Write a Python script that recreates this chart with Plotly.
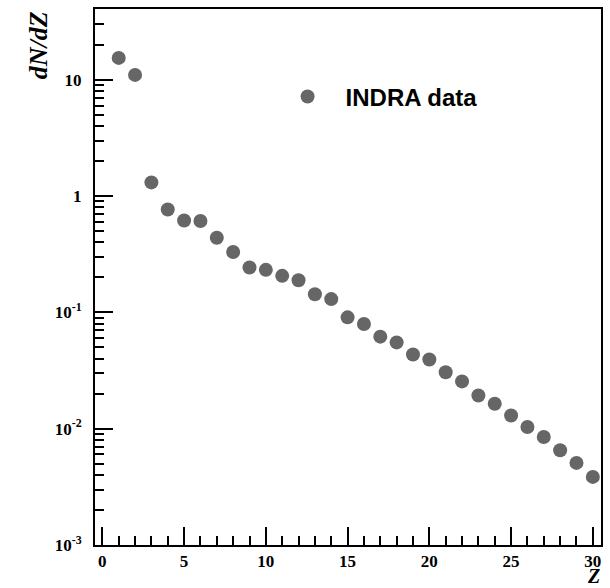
import plotly.graph_objects as go

Z = list(range(1, 31))
dNdZ = [15.4, 11.0, 1.31, 0.767, 0.617, 0.61, 0.438, 0.330, 0.243, 0.232,
        0.206, 0.189, 0.143, 0.130, 0.0906, 0.0794, 0.0618, 0.0552, 0.0434, 0.0393,
        0.0306, 0.0255, 0.0193, 0.0164, 0.0130, 0.01035, 0.00849, 0.00653, 0.00508, 0.00385]

x_tickvals = [0, 5, 10, 15, 20, 25, 30]
y_tickvals = [1e-3, 1e-2, 1e-1, 1, 10]
y_ticktext = ["<b>10</b><sup><b>-3</b></sup>", "<b>10</b><sup><b>-2</b></sup>",
              "<b>10</b><sup><b>-1</b></sup>", "<b>1</b>", "<b>10</b>"]

fig = go.Figure()
fig.add_trace(go.Scatter(
    x=Z, y=dNdZ, mode="markers", name="INDRA data",
    marker=dict(size=14, color="#666666", line=dict(width=0)),
))

serif = "Liberation Serif, Times New Roman, serif"

fig.update_layout(
    width=610, height=588,
    margin=dict(l=95, r=8, t=7, b=43),
    paper_bgcolor="white", plot_bgcolor="white",
    showlegend=True,
    legend=dict(x=0.345, y=0.836, xanchor="left", yanchor="middle",
                font=dict(family="Liberation Sans, Arial, sans-serif", size=24, color="black", weight="bold"),
                bgcolor="rgba(0,0,0,0)", itemwidth=66),
    xaxis=dict(
        range=[-0.45, 30.5], showgrid=False, zeroline=False,
        showline=True, linecolor="black", linewidth=2, mirror=True,
        ticks="inside", ticklen=18, tickwidth=1.5, tickcolor="black",
        tickvals=x_tickvals, ticktext=[f"<b>{v}</b>" for v in x_tickvals],
        tickfont=dict(family=serif, size=17, color="black"),
        minor=dict(ticks="inside", ticklen=9, tickwidth=1.5, tickcolor="black", dtick=1, tick0=0, showgrid=False),
    ),
    yaxis=dict(
        type="log", range=[-3, 1.608], showgrid=False, zeroline=False,
        showline=True, linecolor="black", linewidth=2, mirror=True,
        ticks="inside", ticklen=18, tickwidth=1.5, tickcolor="black",
        tickvals=y_tickvals, ticktext=y_ticktext,
        tickfont=dict(family=serif, size=17, color="black"),
        ticklabelstandoff=8,
        minor=dict(ticks="inside", ticklen=9, tickwidth=1.5, tickcolor="black", dtick="D1", showgrid=False),
    ),
    annotations=[
        dict(text="<b><i>dN/dZ</i></b>", xref="paper", yref="paper", x=-0.112, y=1.0,
             xanchor="center", yanchor="top", textangle=-90, showarrow=False,
             font=dict(family=serif, size=26, color="black")),
        dict(text="<b><i>Z</i></b>", xref="paper", yref="paper", x=0.986, y=-0.0575,
             xanchor="center", yanchor="middle", showarrow=False, borderpad=0,
             font=dict(family=serif, size=20, color="black")),
    ],
)

fig.write_html("out.html")
